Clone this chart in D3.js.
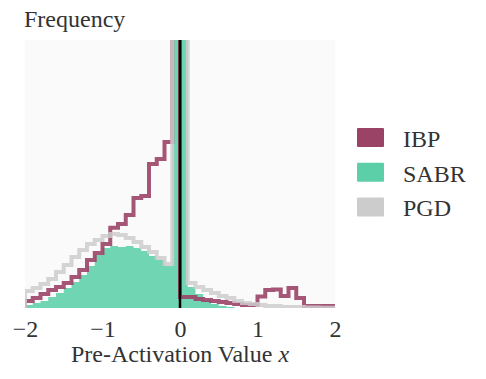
<!DOCTYPE html>
<html>
<head>
<meta charset="utf-8">
<script src="https://cdn.jsdelivr.net/npm/d3@7/dist/d3.min.js"></script>
<style>
  body { margin: 0; background: #fff; }
  svg text { font-family: "Liberation Serif", "DejaVu Serif", "Times New Roman", serif; fill: #333; }
</style>
</head>
<body>
<div id="wrapper"></div>
<script>
// histogram bins: 40 bins of width 0.1 from -2 to 2
const binStart = -2;
const binWidth = 0.1;
const xTicks = [-2, -1, 0, 1, 2];
const seriesNames = ["IBP", "SABR", "PGD"];

const ibpValues = [
  2.6, 3.7, 5.2, 6.7, 7.8, 9.3, 11.6, 14.2, 17.9, 20.5,
  23.9, 29.9, 31.3, 34.7, 41.0, 41.8, 53.7, 55.6, 61.9, 400,
  4.1, 4.1, 3.4, 3.0, 2.6, 2.2, 1.9, 1.5, 1.1, 1.1,
  4.3, 6.7, 6.9, 4.5, 7.5, 3.7, 0.7, 0.7, 0.7, 0.7,
];
const sabrValues = [
  1.1, 1.9, 2.6, 4.1, 5.6, 7.5, 9.7, 12.3, 15.7, 19.8,
  22.4, 23.1, 22.8, 23.1, 22.4, 21.3, 19.4, 17.9, 15.7, 400,
  400, 7.8, 5.2, 3.0, 1.5, 0.7, 0.4, 0, 0, 0,
  0, 0, 0, 0, 0, 0, 0, 0, 0, 0,
];
const pgdValues = [
  6.3, 7.5, 9.0, 10.8, 13.4, 16.0, 19.0, 21.6, 23.9, 25.4,
  26.9, 27.6, 27.2, 26.1, 24.6, 22.8, 20.9, 18.7, 16.4, 400,
  400, 9.3, 7.8, 6.7, 5.6, 4.5, 3.7, 2.6, 1.9, 1.5,
  1.1, 0.7, 0.7, 0.4, 0.4, 0.4, 0.2, 0.2, 0.1, 0.1,
];

const colors = { IBP: "#9b4366", SABR: "#5ccfa8", PGD: "#cccccc" };
const fontStack = '"Liberation Serif", "DejaVu Serif", "Times New Roman", serif';

async function drawHistogram() {
  const dimensions = {
    width: 486,
    height: 379,
    margin: { top: 40, right: 151, bottom: 71, left: 25 },
  };
  dimensions.boundedWidth =
    dimensions.width - dimensions.margin.left - dimensions.margin.right;
  dimensions.boundedHeight =
    dimensions.height - dimensions.margin.top - dimensions.margin.bottom;

  const wrapper = d3
    .select("#wrapper")
    .append("svg")
    .attr("width", dimensions.width)
    .attr("height", dimensions.height);

  const bounds = wrapper
    .append("g")
    .attr(
      "transform",
      `translate(${dimensions.margin.left}, ${dimensions.margin.top})`
    );

  // scales
  const xScale = d3
    .scaleLinear()
    .domain([-2, 2])
    .range([0, dimensions.boundedWidth]);
  const yScale = d3
    .scaleLinear()
    .domain([0, 100])
    .range([dimensions.boundedHeight, 0]);

  bounds
    .append("rect")
    .attr("width", dimensions.boundedWidth)
    .attr("height", dimensions.boundedHeight)
    .attr("fill", "#fafafa");

  bounds
    .append("clipPath")
    .attr("id", "plot-clip")
    .append("rect")
    .attr("width", dimensions.boundedWidth)
    .attr("height", dimensions.boundedHeight);

  const plot = bounds.append("g").attr("clip-path", "url(#plot-clip)");

  // step points: left edge of each bin, then closing right edge
  const toSteps = (values) => {
    const pts = values.map((v, i) => ({ x: binStart + i * binWidth, y: v }));
    pts.push({ x: binStart + values.length * binWidth, y: values[values.length - 1] });
    return pts;
  };

  const areaGenerator = d3
    .area()
    .curve(d3.curveStepAfter)
    .x((d) => xScale(d.x))
    .y0(yScale(0))
    .y1((d) => yScale(d.y));

  const lineGenerator = d3
    .line()
    .curve(d3.curveStepAfter)
    .x((d) => xScale(d.x))
    .y((d) => yScale(d.y));

  const outline = (values) => {
    const pts = toSteps(values);
    return [{ x: binStart, y: 0 }, ...pts, { x: pts[pts.length - 1].x, y: 0 }];
  };

  plot
    .append("path")
    .attr("d", areaGenerator(toSteps(sabrValues)))
    .attr("fill", colors.SABR)
    .attr("fill-opacity", 0.88);

  plot
    .append("path")
    .attr("d", lineGenerator(outline(ibpValues)))
    .attr("fill", "none")
    .attr("stroke", colors.IBP)
    .attr("stroke-opacity", 0.9)
    .attr("stroke-width", 4);

  plot
    .append("path")
    .attr("d", lineGenerator(outline(pgdValues)))
    .attr("fill", "none")
    .attr("stroke", colors.PGD)
    .attr("stroke-opacity", 0.85)
    .attr("stroke-width", 4);

  plot
    .append("line")
    .attr("x1", xScale(0))
    .attr("x2", xScale(0))
    .attr("y1", 0)
    .attr("y2", dimensions.boundedHeight)
    .attr("stroke", "#000")
    .attr("stroke-width", 2.5);

  // axes
  const xAxisGenerator = d3
    .axisBottom(xScale)
    .tickValues(xTicks)
    .tickSize(0)
    .tickPadding(12)
    .tickFormat((d) => (d < 0 ? "\u2212" + Math.abs(d) : d));

  const xAxis = bounds
    .append("g")
    .attr("transform", `translate(0, ${dimensions.boundedHeight})`)
    .call(xAxisGenerator);
  xAxis.select(".domain").remove();
  xAxis
    .selectAll("text")
    .attr("font-family", fontStack)
    .style("font-family", fontStack)
    .style("font-size", "24px")
    .attr("fill", "#333");

  const xLabel = bounds
    .append("text")
    .attr("x", xScale(0))
    .attr("y", dimensions.boundedHeight + 54)
    .attr("text-anchor", "middle")
    .style("font-family", fontStack)
    .style("font-size", "24px");
  xLabel.append("tspan").text("Pre-Activation Value ");
  xLabel.append("tspan").style("font-style", "italic").text("x");

  wrapper
    .append("text")
    .attr("x", 24)
    .attr("y", 27)
    .style("font-family", fontStack)
    .style("font-size", "24px")
    .text("Frequency");

  // legend
  const legend = wrapper
    .append("g")
    .attr("transform", "translate(357, 128)");
  const items = legend
    .selectAll("g")
    .data(seriesNames)
    .join("g")
    .attr("transform", (d, i) => `translate(0, ${i * 34.7})`);
  items
    .append("rect")
    .attr("width", 27)
    .attr("height", 19)
    .attr("rx", 1)
    .attr("fill", (d) => colors[d]);
  items
    .append("text")
    .attr("x", 46)
    .attr("y", 19)
    .style("font-family", fontStack)
    .style("font-size", "24px")
    .text((d) => d);
}
drawHistogram();
</script>
</body>
</html>
